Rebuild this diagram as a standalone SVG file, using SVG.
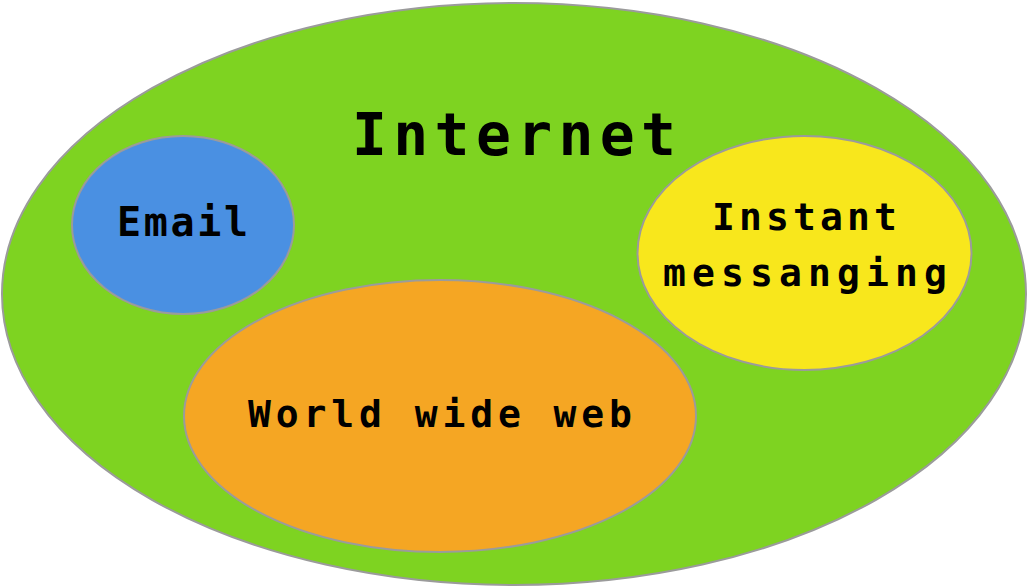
<svg xmlns="http://www.w3.org/2000/svg" width="1028" height="588" viewBox="0 0 1028 588">
<style>
.n{stroke:#9b9b9b;stroke-width:2}
.t{font-family:"DejaVu Sans Mono","Liberation Mono",monospace;fill:#000;text-anchor:start;font-weight:bold}
</style>
<rect width="1028" height="588" fill="#fff"/>
<g id="internet">
<ellipse class="n" cx="514" cy="294" rx="512" ry="291" fill="#7ed321"/>
<text class="t" x="352" y="155" font-size="58" textLength="324" lengthAdjust="spacing">Internet</text>
</g>
<g id="email">
<ellipse class="n" cx="183" cy="225" rx="111" ry="89" fill="#4a90e2"/>
<text class="t" x="117" y="236" font-size="40" textLength="131" lengthAdjust="spacing">Email</text>
</g>
<g id="im">
<ellipse class="n" cx="804.5" cy="253" rx="167" ry="117" fill="#f8e71c"/>
<text class="t" x="712" y="230" font-size="38" textLength="185" lengthAdjust="spacing">Instant</text>
<text class="t" x="663" y="286" font-size="38" textLength="284" lengthAdjust="spacing">messanging</text>
</g>
<g id="www">
<ellipse class="n" cx="440" cy="416" rx="256" ry="136" fill="#f5a623"/>
<text class="t" x="248" y="427" font-size="38" textLength="384" lengthAdjust="spacing">World wide web</text>
</g>
<g id="connectors"></g>
</svg>
